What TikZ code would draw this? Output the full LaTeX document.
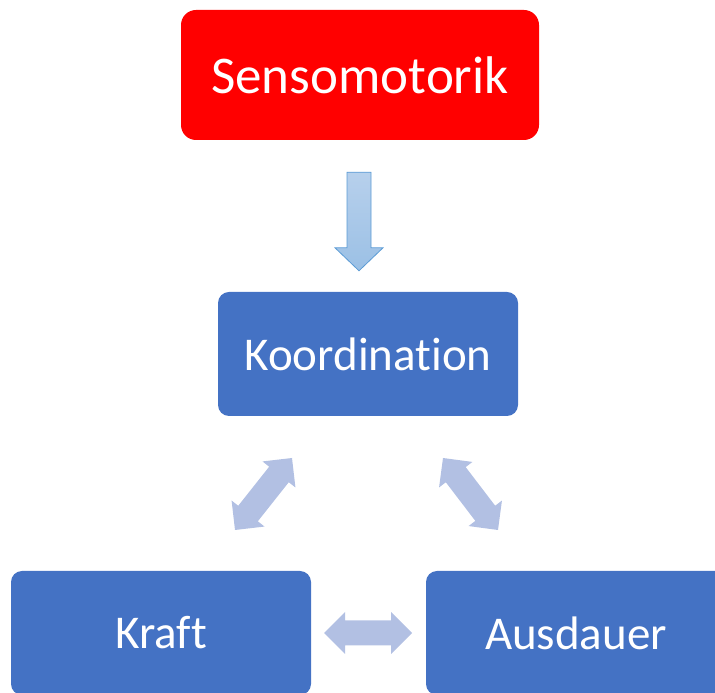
\documentclass[tikz,border=0pt]{standalone}
\usepackage{fontspec}
\setmainfont[Ligatures={NoCommon}]{Carlito}
\usetikzlibrary{calc}
\definecolor{redfill}{RGB}{255,0,0}
\definecolor{bluefill}{RGB}{68,114,196}
\definecolor{arrowfill}{RGB}{178,192,227}
\definecolor{downtop}{RGB}{183,208,236}
\definecolor{downbot}{RGB}{155,192,229}
\definecolor{downedge}{RGB}{91,155,213}
\tikzset{
  box/.style={rounded corners=11pt, minimum width=300pt, minimum height=124pt, fill=bluefill, text=white, font=\fontsize{47}{56}\selectfont, inner sep=0pt},
  redbox/.style={box, rounded corners=15pt, fill=redfill, minimum width=358pt, minimum height=130pt, font=\fontsize{53}{62}\selectfont},
  blockarrow/.style={fill=arrowfill},
  downarrow/.style={top color=downtop, bottom color=downbot, draw=downedge, line width=0.8pt}
}
\newcommand\dblarrow[2]{%
  \coordinate (h1) at ($(#1)!21pt!(#2)$);
  \coordinate (h2) at ($(#2)!21pt!(#1)$);
  \fill[blockarrow] (#1) -- ($(h1)!21pt!90:(#2)$) -- ($(h1)!12.5pt!90:(#2)$)
    -- ($(h2)!12.5pt!-90:(#1)$) -- ($(h2)!21pt!-90:(#1)$) -- (#2)
    -- ($(h2)!21pt!90:(#1)$) -- ($(h2)!12.5pt!90:(#1)$)
    -- ($(h1)!12.5pt!-90:(#2)$) -- ($(h1)!21pt!-90:(#2)$) -- cycle;}
\begin{document}
\begin{tikzpicture}[x=1pt,y=1pt]
\useasboundingbox (0,0) rectangle (715,693);
\clip (0,0) rectangle (715,693);
\node[redbox] (sens) at (360,618) {Sensomotorik};
\node[box] (koord) at (368,339) {Koordination};
\node[box] (kraft) at (161,60) {Kraft};
\node[box] (aus) at (576,60) {Ausdauer};
% down arrow
\coordinate (d1) at ($(sens.south)+(-1,-32)$);
\coordinate (d2) at ($(koord.north)+(-9,21)$);
\draw[downarrow] ($(d1)+(-12,0)$) -- ($(d1)+(12,0)$) -- ($(d2)+(12,23)$) -- ($(d2)+(24,23)$)
  -- (d2) -- ($(d2)+(-24,23)$) -- ($(d2)+(-12,23)$) -- cycle;
% double arrows
\coordinate (la) at (235,163);
\coordinate (lb) at (292,235);
\coordinate (ra) at (443,235);
\coordinate (rb) at (498,163);
\coordinate (ha) at (324,60);
\coordinate (hb) at (412,60);
\dblarrow{la}{lb}
\dblarrow{ra}{rb}
\dblarrow{ha}{hb}
\end{tikzpicture}
\end{document}
